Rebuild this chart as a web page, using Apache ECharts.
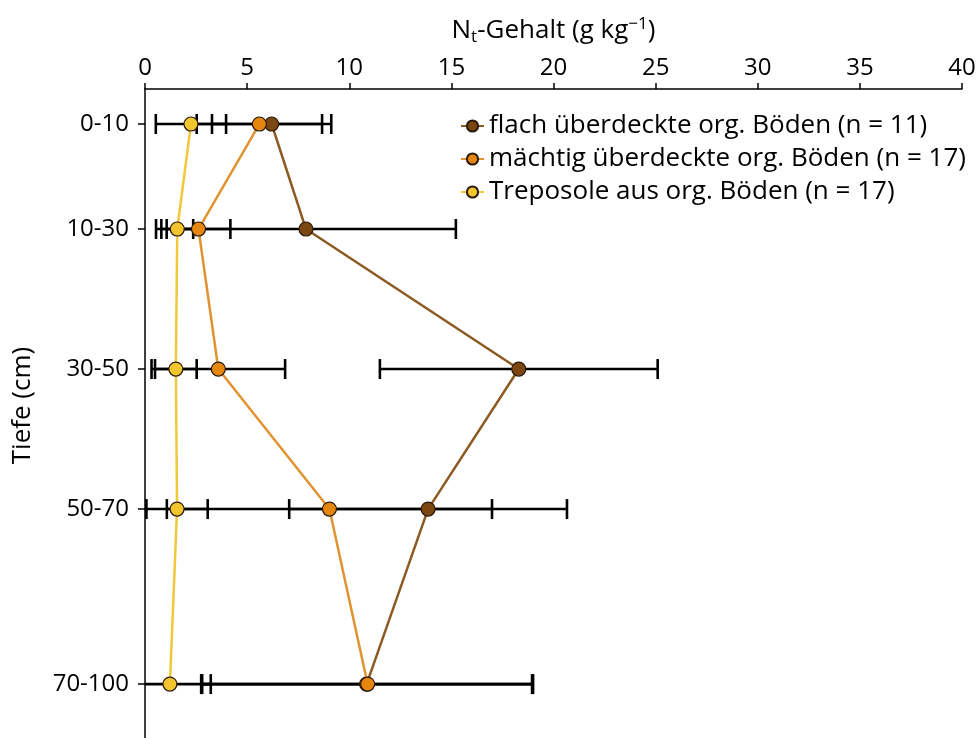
<!DOCTYPE html>
<html>
<head>
<meta charset="utf-8">
<script src="https://cdn.jsdelivr.net/npm/echarts@6/dist/echarts.min.js"></script>
<style>
  html, body { margin: 0; padding: 0; background: #fff; }
  #chart { width: 980px; height: 738px; }
</style>
</head>
<body>
<div id="chart"></div>
<script>
// Tiefenstufen (Mitte der Stufe in cm) und Beschriftung
const depthLabels = ['0-10', '10-30', '30-50', '50-70', '70-100'];
const depthMid = [5, 20, 40, 60, 85];

// Nt-Gehalt (g/kg), Mittelwert und Standardabweichung
const flachMean = [6.2, 7.88, 18.3, 13.86, 10.85];
const flachSd = [2.92, 7.34, 6.8, 6.8, 8.1];
const maechtigMean = [5.6, 2.62, 3.59, 9.03, 10.9];
const maechtigSd = [3.07, 1.56, 3.27, 7.96, 8.1];
const trepoMean = [2.25, 1.58, 1.51, 1.57, 1.22];
const trepoSd = [1.72, 0.78, 1.02, 1.5, 2.0];

const seriesNames = [
  'flach überdeckte org. Böden (n = 11)',
  'mächtig überdeckte org. Böden (n = 17)',
  'Treposole aus org. Böden (n = 17)',
];
const fillColors = ['#7b4611', '#e5870f', '#f2c52e'];
const lineColors = ['#8c5a22', '#e29330', '#f1c83c'];

const FONT = 'Open Sans';
const FS = 24;   // Achsenbeschriftung
const FT = 26;   // Titel, Legende

const groups = [
  [flachMean, flachSd],
  [maechtigMean, maechtigSd],
  [trepoMean, trepoSd],
];

const renderErrorBar = (params, api) => {
  const d = api.value(2);
  const lo = api.coord([api.value(0), d]);
  const hi = api.coord([api.value(1), d]);
  const h = 10;
  const style = { stroke: '#000', lineWidth: 2.6 };
  return {
    type: 'group',
    children: [
      { type: 'line', shape: { x1: lo[0], y1: lo[1], x2: hi[0], y2: hi[1] }, style },
      { type: 'line', shape: { x1: lo[0], y1: lo[1] - h, x2: lo[0], y2: lo[1] + h }, style },
      { type: 'line', shape: { x1: hi[0], y1: hi[1] - h, x2: hi[0], y2: hi[1] + h }, style },
    ],
  };
};

const errorSeries = groups.map(([mean, sd]) => ({
  type: 'custom',
  renderItem: renderErrorBar,
  clip: true,
  silent: true,
  z: 1,
  encode: { x: [0, 1], y: 2 },
  data: mean.map((m, i) => [m - sd[i], m + sd[i], depthMid[i]]),
}));

const lineSeries = groups.map(([mean], k) => ({
  name: seriesNames[k],
  type: 'line',
  z: 3 + k,
  symbol: 'circle',
  symbolSize: 14,
  itemStyle: { color: fillColors[k], borderColor: '#2a1a08', borderWidth: 1.2 },
  lineStyle: { color: lineColors[k], width: 2.5 },
  data: mean.map((m, i) => [m, depthMid[i]]),
}));

const myChart = echarts.init(document.getElementById('chart'));
myChart.setOption({
  animation: false,
  textStyle: { fontFamily: FONT },
  grid: { left: 145, top: 89, right: 18, bottom: 0 },
  legend: {
    orient: 'vertical',
    left: 460,
    top: 113,
    padding: 0,
    itemWidth: 23,
    itemHeight: 14,
    itemGap: 7,
    data: seriesNames,
    textStyle: { fontFamily: FONT, fontSize: FT, color: '#000' },
  },
  xAxis: {
    type: 'value',
    position: 'top',
    min: 0,
    max: 40,
    interval: 5,
    name: '{n|N}{s|t}{n|-Gehalt (g kg}{p|−1}{n|)}',
    nameLocation: 'middle',
    nameGap: 43,
    nameTextStyle: {
      rich: {
        n: { fontFamily: FONT, fontSize: FT, color: '#000' },
        s: { fontFamily: FONT, fontSize: 17, color: '#000', padding: [13, 0, 0, 0] },
        p: { fontFamily: FONT, fontSize: 17, color: '#000', padding: [0, 0, 13, 0] },
      },
    },
    axisLine: { lineStyle: { color: '#000', width: 1.5 } },
    axisTick: { length: 6, lineStyle: { color: '#000', width: 1.5 } },
    axisLabel: { fontSize: FS, color: '#000', margin: 9 },
    splitLine: { show: false },
  },
  yAxis: {
    type: 'value',
    inverse: true,
    min: 0,
    max: 92.7,
    name: 'Tiefe (cm)',
    nameLocation: 'middle',
    nameGap: 109,
    nameTextStyle: { fontSize: FT, color: '#000', padding: [0, 0, 0, 16] },
    axisLine: { show: true, lineStyle: { color: '#000', width: 1.5 } },
    axisTick: { show: true, customValues: depthMid, length: 7, lineStyle: { color: '#000', width: 1.5 } },
    axisLabel: {
      customValues: depthMid,
      fontSize: FS,
      color: '#000',
      margin: 16,
      formatter: (v) => depthLabels[depthMid.indexOf(v)],
    },
    splitLine: { show: false },
  },
  series: [...errorSeries, ...lineSeries],
});
</script>
</body>
</html>
